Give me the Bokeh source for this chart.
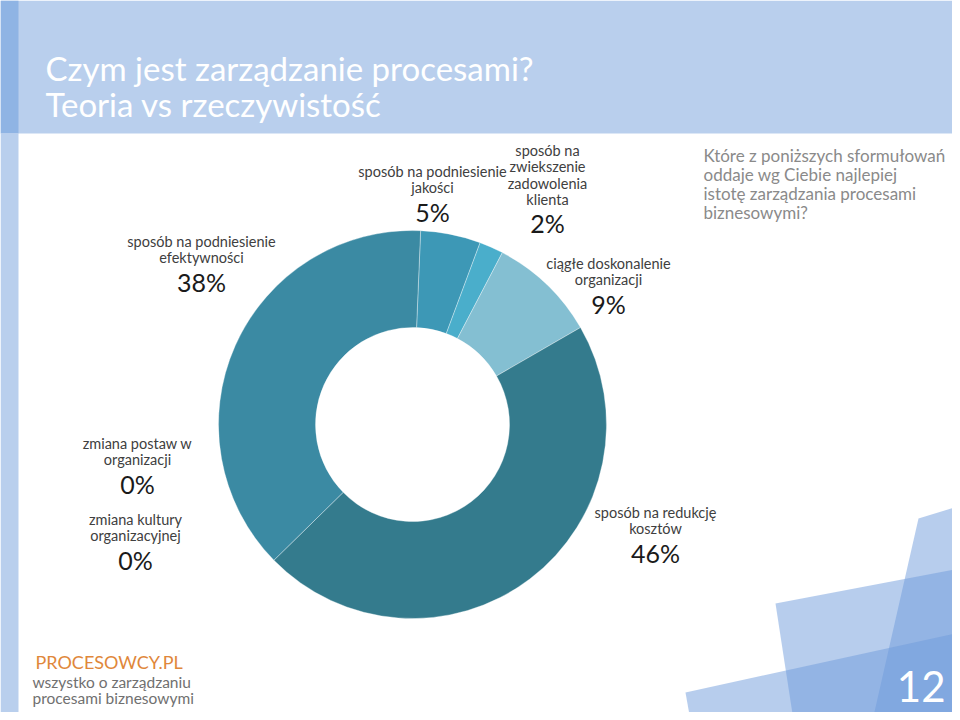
import numpy as np
from bokeh.plotting import figure
from bokeh.models import ColumnDataSource, Range1d
from bokeh.core.properties import value
from bokeh.embed import file_html
from bokeh.resources import INLINE

# ---------------- data ----------------
categories = [
    "sposób na podniesienie jakości",
    "sposób na zwiekszenie zadowolenia klienta",
    "ciągłe doskonalenie organizacji",
    "sposób na redukcję kosztów",
    "zmiana kultury organizacyjnej",
    "zmiana postaw w organizacji",
    "sposób na podniesienie efektywności",
]
label_lines = [
    ["sposób na podniesienie", "jakości"],
    ["sposób na", "zwiekszenie", "zadowolenia", "klienta"],
    ["ciągłe doskonalenie", "organizacji"],
    ["sposób na redukcję", "kosztów"],
    ["zmiana kultury", "organizacyjnej"],
    ["zmiana postaw w", "organizacji"],
    ["sposób na podniesienie", "efektywności"],
]
shares = [5, 2, 9, 46, 0, 0, 38]
colors = ["#3d98b6", "#4aaecb", "#84bfd2", "#347b8d", "#347b8d", "#3b8aa3", "#3b8aa3"]

title_lines = ["Czym jest zarządzanie procesami?", "Teoria vs rzeczywistość"]
question_lines = ["Które z poniższych sformułowań", "oddaje wg Ciebie najlepiej",
                  "istotę zarządzania procesami", "biznesowymi?"]
brand = "PROCESOWCY.PL"
brand_sub = ["wszystko o zarządzaniu", "procesami biznesowymi"]
page_number = "12"

# ---------------- layout (reference pixel coords, y from top) ----------------
W, H = 960, 720
FONT = "Lato"
CX, CY = 412, 424
R_OUT, R_IN = 194, 97
START_OFFSET_DEG = 2.4
label_anchor = [(432, 171), (547, 150), (608, 263), (655, 512), (135, 519), (137, 443), (201, 241)]
LINE_STEP = 16.3
PCT_GAP = 24


def fy(y):
    return H - y


p = figure(width=952, height=712, output_backend="svg", toolbar_location=None,
           x_range=Range1d(0, 952), y_range=Range1d(8, 720),
           min_border=0, outline_line_color=None, background_fill_color="white",
           border_fill_color="white")
p.axis.visible = False
p.grid.visible = False

# background band and strips
p.quad(left=[0, 0, 0], right=[W, 18, 18], top=[fy(0), fy(0), fy(133)],
       bottom=[fy(133), fy(133), fy(H)],
       fill_color=["#b9cfed", "#8fb4e4", "#b9cfed"], line_color=None)

# decorative translucent shapes bottom right
shapes = [
    [(918, 518), (960, 505), (960, 720), (872, 720)],
    [(775, 603), (960, 568), (960, 720), (793, 720)],
    [(685, 692), (960, 632), (960, 720), (690, 720)],
]
p.patches(xs=[[pt[0] for pt in s] for s in shapes],
          ys=[[fy(pt[1]) for pt in s] for s in shapes],
          fill_color="#6f9bdc", fill_alpha=0.5, line_color=None)

# donut
vals = np.array(shares, dtype=float)
fr = vals / vals.sum()
cum = np.concatenate([[0], np.cumsum(fr)[:-1]])
base = np.pi / 2 - np.deg2rad(START_OFFSET_DEG)
starts = base - cum * 2 * np.pi
ends = starts - fr * 2 * np.pi
mask = vals > 0
src = ColumnDataSource(dict(start=starts[mask], end=ends[mask],
                            color=[c for c, m in zip(colors, mask) if m]))
p.annular_wedge(x=CX, y=fy(CY), inner_radius=R_IN, outer_radius=R_OUT,
                start_angle="start", end_angle="end", direction="clock",
                fill_color="color", line_color="white", line_alpha=0.35,
                line_width=1, source=src)

# labels
lx, ly, lt = [], [], []
px, py, pt = [], [], []
for lines, (ax, ay), v in zip(label_lines, label_anchor, shares):
    for i, t in enumerate(lines):
        lx.append(ax)
        ly.append(fy(ay + i * LINE_STEP))
        lt.append(t)
    px.append(ax)
    py.append(fy(ay + (len(lines) - 1) * LINE_STEP + PCT_GAP))
    pt.append(f"{v}%")
p.text(x=lx, y=ly, text=lt, text_font=value(FONT), text_font_size="14.5px",
       text_color="#404040", text_align="center", text_baseline="middle")
p.text(x=px, y=py, text=pt, text_font=value(FONT), text_font_size="25px",
       text_color="#1a1a1a", text_align="center", text_baseline="middle")

# title
p.text(x=[45, 45], y=[fy(67), fy(103)], text=title_lines, text_font=value(FONT),
       text_font_size="33px", text_color="white", text_align="left",
       text_baseline="alphabetic")

# question
p.text(x=[703] * 4, y=[fy(155 + 19 * i) for i in range(4)], text=question_lines,
       text_font=value(FONT), text_font_size="17px", text_color="#8a8a8a",
       text_align="left", text_baseline="alphabetic")

# brand
p.text(x=[35], y=[fy(661)], text=[brand], text_font=value(FONT), text_font_size="18px",
       text_color="#e0873a", text_align="left", text_baseline="middle")
p.text(x=[32, 32], y=[fy(681), fy(697)], text=brand_sub, text_font=value(FONT),
       text_font_size="15.5px", text_color="#707070", text_align="left",
       text_baseline="middle")

# page number
p.text(x=[945], y=[fy(686)], text=[page_number], text_font=value(FONT),
       text_font_size="42px", text_color="white", text_align="right",
       text_baseline="middle")

open("out.html", "w").write(file_html(p, INLINE))
